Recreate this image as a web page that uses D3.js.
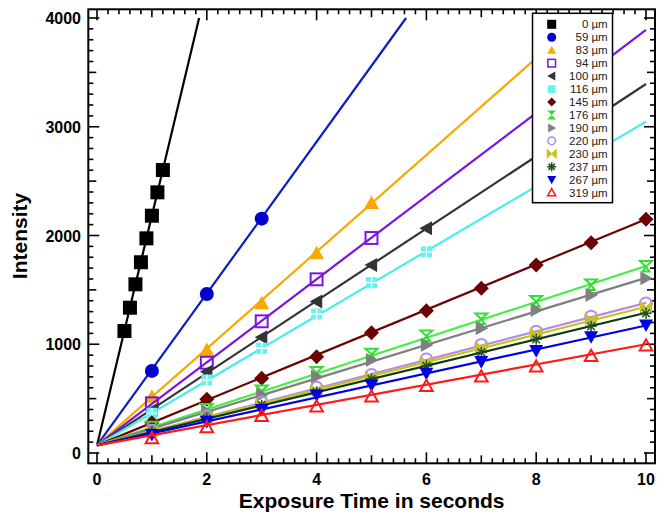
<!DOCTYPE html>
<html><head><meta charset="utf-8">
<script src="https://cdn.jsdelivr.net/npm/d3@7"></script>
<style>body{margin:0;background:#fff}svg{display:block}</style>
</head><body><div id="chart"></div>
<script>
const seriesNames = ["0 \u00b5m","59 \u00b5m","83 \u00b5m","94 \u00b5m","100 \u00b5m","116 \u00b5m","145 \u00b5m","176 \u00b5m","190 \u00b5m","220 \u00b5m","230 \u00b5m","237 \u00b5m","267 \u00b5m","319 \u00b5m"];
const seriesColors = ["#000000","#0a1fc0","#f9a800","#7a14e0","#333333","#44eeee","#6b0505","#44ee44","#808080","#b08ee8","#c9c21a","#0b3d0b","#0000e6","#ff1a1a"];
const markerColors = ["#000000","#0000cc","#f9a800","#7a14e0","#333333","#66f2f2","#6b0505","#33dd33","#808080","#b08ee8","#c9c21a","#1f4f1f","#0000e6","#ff1a1a"];
const markerTypes = ["square","circle","triUp","squareOpen","triLeft","squareCross","diamond","hourglass","triRight","circleOpen","bowtie","asterisk","triDown","triUpOpen"];

const tBlack = [0.5,0.6,0.7,0.8,0.9,1.0,1.1,1.2];
const t3 = [1,2,3];
const t5 = [1,2,3,4,5];
const t6 = [1,2,3,4,5,6];
const t10 = [1,2,3,4,5,6,7,8,9,10];
const seriesTimes = [tBlack, t3, t5, t5, t6, t6, t10, t10, t10, t10, t10, t10, t10, t10];
const seriesValues = [
  [1122,1336,1551,1754,1974,2182,2397,2602],
  [755,1462,2155],
  [518,947,1377,1837,2299],
  [457,830,1211,1597,1977],
  [395,748,1064,1392,1729,2066],
  [365,671,963,1278,1566,1850],
  [278,494,687,886,1106,1309,1514,1729,1934,2149],
  [235,400,570,739,907,1076,1232,1392,1545,1713],
  [225,380,535,702,855,993,1146,1315,1453,1606],
  [205,335,465,601,717,861,993,1116,1253,1376],
  [195,325,450,580,700,840,975,1100,1230,1340],
  [190,315,440,560,680,800,925,1045,1165,1285],
  [170,290,400,533,625,733,840,941,1069,1177],
  [135,236,340,426,518,616,702,794,892,987]
];
// fitted lines: start at (0, fitStart) and end at given point
const fitStart = 70;
const fitEnds = [[1.86,4000],[5.63,4000],[8.83,4000],[10,3890],[10,3393],[10,3047],[10,2150],[10,1720],[10,1610],[10,1380],[10,1345],[10,1290],[10,1172],[10,1000]];

const xTicks = [0,2,4,6,8,10];
const yTicks = [0,1000,2000,3000,4000];

const W = 664, H = 523;
const svg = d3.select("#chart").append("svg").attr("width", W).attr("height", H);
const L = 88.3, R = 655, T = 9.3, B = 463.3;
const x = d3.scaleLinear().domain([0,10]).range([97,646]);
const y = d3.scaleLinear().domain([0,4000]).range([453,18]);

const font = "'Liberation Sans', Arial, Helvetica, sans-serif";

// ticks
const tickG = svg.append("g").attr("stroke","#000").attr("stroke-width",1.6);
const xMinor = d3.range(0, 10.01, 0.2).map(v => +v.toFixed(1));
xMinor.forEach(v => {
  const len = (Math.abs(v % 2) < 1e-6 || Math.abs(v % 2 - 2) < 1e-6) ? 11 : (Math.abs(v % 1) < 1e-6 ? 8 : 5);
  const px = x(v);
  tickG.append("line").attr("x1",px).attr("x2",px).attr("y1",B).attr("y2",B-len);
  tickG.append("line").attr("x1",px).attr("x2",px).attr("y1",T).attr("y2",T+len);
});
const yMinor = d3.range(0, 4001, 100);
yMinor.forEach(v => {
  const len = v % 1000 === 0 ? 11 : (v % 500 === 0 ? 8 : 5);
  const py = y(v);
  tickG.append("line").attr("x1",L).attr("x2",L+len).attr("y1",py).attr("y2",py);
  tickG.append("line").attr("x1",R).attr("x2",R-len).attr("y1",py).attr("y2",py);
});

// tick labels
svg.append("g").selectAll("text").data(xTicks).join("text")
  .attr("x", d => x(d)).attr("y", 485).attr("text-anchor","middle")
  .attr("font-family", font).attr("font-weight","bold").attr("font-size",16).text(d => d);
svg.append("g").selectAll("text").data(yTicks).join("text")
  .attr("x", 81).attr("y", d => y(d) + 6).attr("text-anchor","end")
  .attr("font-family", font).attr("font-weight","bold").attr("font-size",16).text(d => d);

// axis titles
svg.append("text").attr("x", (L+R)/2 + 0).attr("y", 508).attr("text-anchor","middle")
  .attr("font-family", font).attr("font-weight","bold").attr("font-size",21).text("Exposure Time in seconds");
svg.append("text").attr("transform","translate(27,236) rotate(-90)").attr("text-anchor","middle")
  .attr("font-family", font).attr("font-weight","bold").attr("font-size",21).text("Intensity");

// marker drawing
function drawMarker(g, type, cx, cy, s, color) {
  const sw = s > 5 ? 2 : 1.5;
  const P = pts => "M" + pts.map(p => (cx+p[0]) + "," + (cy+p[1])).join("L") + "Z";
  switch (type) {
    case "square":
      g.append("rect").attr("x",cx-s).attr("y",cy-s).attr("width",2*s).attr("height",2*s).attr("fill",color); break;
    case "squareOpen":
      g.append("rect").attr("x",cx-s*0.85).attr("y",cy-s*0.85).attr("width",1.7*s).attr("height",1.7*s)
        .attr("fill","none").attr("stroke",color).attr("stroke-width",sw); break;
    case "squareCross":
      g.append("rect").attr("x",cx-s*0.85).attr("y",cy-s*0.85).attr("width",1.7*s).attr("height",1.7*s).attr("fill",color);
      if (s > 5) {
        g.append("line").attr("x1",cx).attr("x2",cx).attr("y1",cy-s*0.85).attr("y2",cy+s*0.85).attr("stroke","#fff").attr("stroke-width",1.3);
        g.append("line").attr("y1",cy).attr("y2",cy).attr("x1",cx-s*0.85).attr("x2",cx+s*0.85).attr("stroke","#fff").attr("stroke-width",1.3);
      }
      break;
    case "circle":
      g.append("circle").attr("cx",cx).attr("cy",cy).attr("r",s).attr("fill",color); break;
    case "circleOpen":
      g.append("circle").attr("cx",cx).attr("cy",cy).attr("r",s*0.85).attr("fill","none").attr("stroke",color).attr("stroke-width",sw); break;
    case "triUp":
      g.append("path").attr("d",P([[0,-s],[s,s*0.8],[-s,s*0.8]])).attr("fill",color); break;
    case "triUpOpen":
      g.append("path").attr("d",P([[0,-s*0.9],[s*0.9,s*0.7],[-s*0.9,s*0.7]])).attr("fill","none").attr("stroke",color).attr("stroke-width",sw); break;
    case "triDown":
      g.append("path").attr("d",P([[0,s],[s,-s*0.8],[-s,-s*0.8]])).attr("fill",color); break;
    case "triLeft":
      g.append("path").attr("d",P([[-s,0],[s*0.8,-s],[s*0.8,s]])).attr("fill",color); break;
    case "triRight":
      g.append("path").attr("d",P([[s,0],[-s*0.8,-s],[-s*0.8,s]])).attr("fill",color); break;
    case "diamond":
      g.append("path").attr("d",P([[0,-s],[s,0],[0,s],[-s,0]])).attr("fill",color); break;
    case "hourglass":
      if (s > 5) {
        g.append("path").attr("d",P([[-s*0.85,-s*0.8],[s*0.85,-s*0.8],[0,0]])+P([[0,0],[s*0.5,s*0.7],[-s*0.5,s*0.7]])).attr("fill","none").attr("stroke",color).attr("stroke-width",sw);
      } else {
        g.append("path").attr("d",P([[-s,-s],[s,-s],[0,0]])+P([[0,0],[s,s],[-s,s]])).attr("fill",color);
      }
      break;
    case "bowtie":
      g.append("path").attr("d",P([[-s,-s],[0,0],[-s,s]])+P([[s,-s],[0,0],[s,s]])).attr("fill",color)
        .attr("stroke",color).attr("stroke-width",1); break;
    case "asterisk": {
      const a = s;
      const segs = [[-a,0,a,0],[0,-a,0,a],[-a*0.7,-a*0.7,a*0.7,a*0.7],[-a*0.7,a*0.7,a*0.7,-a*0.7]];
      segs.forEach(q => g.append("line").attr("x1",cx+q[0]).attr("y1",cy+q[1]).attr("x2",cx+q[2]).attr("y2",cy+q[3])
        .attr("stroke",color).attr("stroke-width",1.5));
      break; }
  }
}

const markerSize = [7,7,7.5,7,7,6.5,7.5,7,7,7,5.5,5.5,7,7];

// plot clip
svg.append("clipPath").attr("id","clip").append("rect").attr("x",L).attr("y",T).attr("width",R-L).attr("height",B-T);
const plot = svg.append("g").attr("clip-path","url(#clip)");

const line = d3.line().x(d => x(d[0])).y(d => y(d[1]));
seriesNames.forEach((name, i) => {
  const g = plot.append("g");
  g.append("path").attr("d", line([[0, fitStart], fitEnds[i]]))
    .attr("fill","none").attr("stroke", seriesColors[i]).attr("stroke-width", 2.2);
  seriesTimes[i].forEach((t, j) => {
    drawMarker(g, markerTypes[i], x(t), y(seriesValues[i][j]), markerSize[i], markerColors[i]);
  });
});

// frame
svg.append("rect").attr("x",L).attr("y",T).attr("width",R-L).attr("height",B-T)
  .attr("fill","none").attr("stroke","#000").attr("stroke-width",2);

// legend
const lg = svg.append("g");
lg.append("rect").attr("x",532.5).attr("y",13.3).attr("width",80).attr("height",189.4)
  .attr("fill","#fff").attr("stroke","#000").attr("stroke-width",1.5);
seriesNames.forEach((name, i) => {
  const cy = 24.3 + i * 12.95;
  drawMarker(lg, markerTypes[i], 551.7, cy, 4.5, markerColors[i]);
  lg.append("text").attr("x", 607.7).attr("y", cy + 4).attr("text-anchor","end")
    .attr("font-family", font).attr("font-size", 11.5).attr("fill","#222").text(name);
});
</script>
</body></html>
